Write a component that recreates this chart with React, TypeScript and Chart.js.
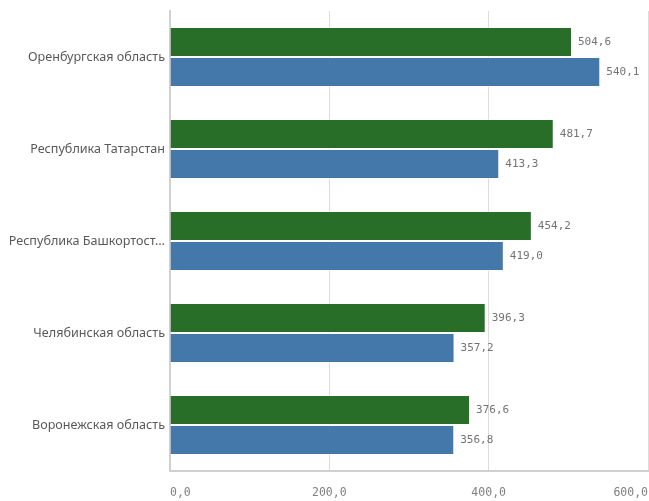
import React, { useEffect, useRef } from "react";
import { Chart, registerables } from "chart.js";
Chart.register(...registerables);

const categories = [
  "Оренбургская область",
  "Республика Татарстан",
  "Республика Башкортост…",
  "Челябинская область",
  "Воронежская область",
];
const greenValues = [504.6, 481.7, 454.2, 396.3, 376.6];
const blueValues = [540.1, 413.3, 419.0, 357.2, 356.8];
const xTicks = [0, 200, 400, 600];

const fmt = (v: number) => v.toFixed(1).replace(".", ",");

const labelPlugin = {
  id: "valueLabels",
  afterDatasetsDraw(chart: any) {
    const ctx = chart.ctx;
    ctx.save();
    ctx.font = "11px 'DejaVu Sans Mono', monospace";
    ctx.fillStyle = "#737373";
    ctx.textAlign = "left";
    ctx.textBaseline = "middle";
    chart.data.datasets.forEach((ds: any, i: number) => {
      const meta = chart.getDatasetMeta(i);
      meta.data.forEach((bar: any, j: number) => {
        ctx.fillText(fmt(ds.data[j]), bar.x + 6, bar.y);
      });
    });
    ctx.restore();
  },
};

export default function App() {
  const ref = useRef<HTMLCanvasElement>(null);
  useEffect(() => {
    if (!ref.current) return;
    const chart = new Chart(ref.current, {
      type: "bar",
      data: {
        labels: categories,
        datasets: [
          {
            data: greenValues,
            backgroundColor: "#286e28",
            borderColor: "rgba(255,255,255,0.5)",
            borderWidth: 1,
            categoryPercentage: 0.65,
            barPercentage: 1,
          },
          {
            data: blueValues,
            backgroundColor: "#4477aa",
            borderColor: "rgba(255,255,255,0.5)",
            borderWidth: 1,
            categoryPercentage: 0.65,
            barPercentage: 1,
          },
        ],
      },
      options: {
        indexAxis: "y",
        animation: false,
        responsive: false,
        layout: { padding: { top: 11, right: 1, left: 0, bottom: 0 } },
        plugins: { legend: { display: false }, tooltip: { enabled: false } },
        scales: {
          x: {
            min: 0,
            max: 600,
            afterBuildTicks: (scale: any) => {
              scale.ticks = xTicks.map((v) => ({ value: v }));
            },
            afterFit: (scale: any) => {
              scale.height = 30;
              scale.paddingRight = 0;
              scale.paddingLeft = 0;
            },
            ticks: {
              align: "inner",
              color: "#808080",
              padding: 15,
              font: { family: "'DejaVu Sans Mono', monospace", size: 11.5 },
              callback: (v: any) => fmt(Number(v)),
            },
            grid: { color: "#dcdcdc", lineWidth: 1, drawTicks: false },
            border: { color: "#d0d0d0", width: 2 },
          },
          y: {
            afterFit: (scale: any) => {
              scale.width = 170;
              scale.paddingTop = 0;
              scale.paddingBottom = 0;
            },
            ticks: {
              color: "#595959",
              padding: 5,
              font: { family: "'Noto Sans', sans-serif", size: 12.6 },
            },
            grid: { display: false, drawTicks: false },
            border: { color: "#d0d0d0", width: 2 },
          },
        },
      },
      plugins: [labelPlugin],
    } as any);
    return () => chart.destroy();
  }, []);
  return (
    <div style={{ position: "fixed", left: 0, top: 0, width: 649, height: 501, background: "#fff" }}>
      <canvas ref={ref} width={649} height={501} style={{ display: "block" }} />
    </div>
  );
}
